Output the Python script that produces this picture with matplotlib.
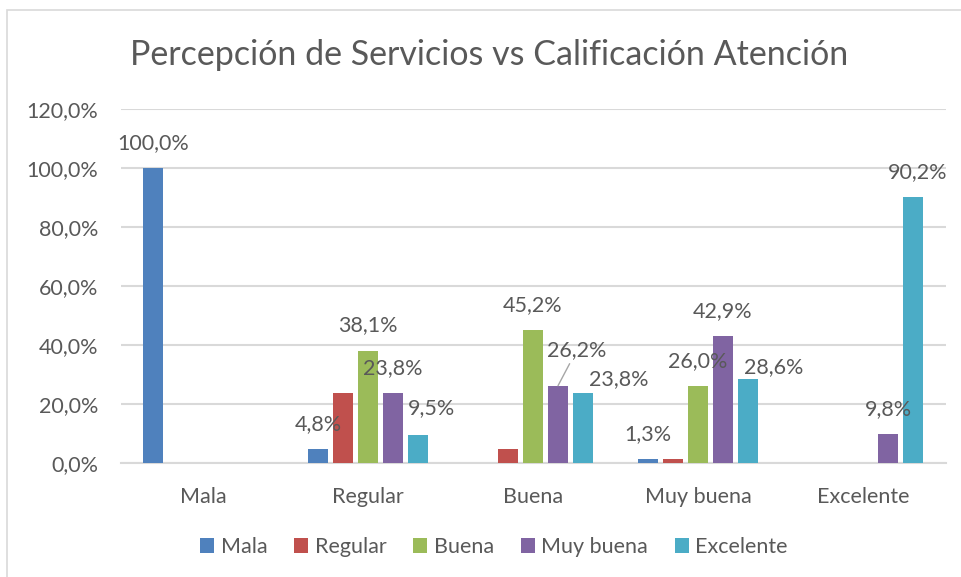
import numpy as np
import matplotlib
matplotlib.use('Agg')
import matplotlib.pyplot as plt
from matplotlib.patches import Rectangle

# ======================== Data ========================
CATEGORIES = ['Mala', 'Regular', 'Buena', 'Muy buena', 'Excelente']
SERIES = ['Mala', 'Regular', 'Buena', 'Muy buena', 'Excelente']

# percentage per category (rows) for each series
MALA = [100.0, 4.8, 0.0, 1.3, 0.0]
REGULAR = [0.0, 23.8, 4.8, 1.3, 0.0]
BUENA = [0.0, 38.1, 45.2, 26.0, 0.0]
MUY_BUENA = [0.0, 23.8, 26.2, 42.9, 9.8]
EXCELENTE = [0.0, 9.5, 23.8, 28.6, 90.2]

Y_TICKS = [0, 20, 40, 60, 80, 100, 120]

# ======================== Style ========================
COLORS = ['#4F81BD', '#C0504D', '#9BBB59', '#8064A2', '#4BACC6']
TEXT = '#595959'
GRID = '#D9D9D9'
FONT = 'Lato'
FS = 15.5

# label offsets in pixels (category, series) -> (dx, dy); default is (0, 25)
LABEL_OFFSETS = {
    (1, 4): (13, 27),
    (2, 3): (19, 36),
    (2, 4): (36, 14),
    (3, 4): (26, 12),
    (4, 4): (5, 25),
}
HIDDEN = {(1, 1), (2, 1), (3, 1)}

fig = plt.figure(figsize=(9.61, 5.77), dpi=100)
ax = fig.add_axes([0.1254, 0.1976, 0.8585, 0.6135])

# chart frame
fig.patches.append(Rectangle((7 / 961, -0.02), 1.0, 1 - 10 / 577 + 0.02,
                             transform=fig.transFigure, fill=False,
                             edgecolor='#D9D9D9', lw=1.2))

series_vals = [MALA, REGULAR, BUENA, MUY_BUENA, EXCELENTE]
x = np.arange(len(CATEGORIES))
step = 25 / 165
width = 20 / 165

for j, (name, vals) in enumerate(zip(SERIES, series_vals)):
    pos = x + (j - 2) * step
    ax.bar(pos, vals, width, color=COLORS[j], label=name, zorder=3)
    for i, v in enumerate(vals):
        if v == 0 or (i, j) in HIDDEN:
            continue
        dx, dy = LABEL_OFFSETS.get((i, j), (0, 25))
        lbl = f'{v:.1f}%'.replace('.', ',')
        arrow = None
        if (i, j) == (2, 3):
            # leader line for the moved label
            arrow = dict(arrowstyle='-', color='#A6A6A6', lw=1,
                         shrinkA=1, shrinkB=0)
        ax.annotate(lbl, (pos[i], v), xytext=(dx, dy),
                    textcoords='offset pixels', ha='center', va='center',
                    fontsize=FS, color=TEXT, family=FONT, zorder=4,
                    arrowprops=arrow)

ax.set_xlim(-0.5, 4.5)
ax.set_ylim(0, 120)
ax.set_yticks(Y_TICKS)
ax.set_yticklabels([f'{t:.1f}%'.replace('.', ',') for t in Y_TICKS])
ax.set_xticks(x)
ax.set_xticklabels(CATEGORIES)
ax.tick_params(length=0, labelsize=FS, labelcolor=TEXT)
ax.tick_params(axis='x', pad=17)
ax.tick_params(axis='y', pad=16)
for t in ax.get_xticklabels() + ax.get_yticklabels():
    t.set_family(FONT)

ax.grid(axis='y', color=GRID, lw=1.5, zorder=0)
for s in ['top', 'right', 'left']:
    ax.spines[s].set_visible(False)
ax.spines['bottom'].set_color(GRID)
ax.spines['bottom'].set_linewidth(1.5)

fig.text(489 / 961, 1 - 55 / 577, 'Percepción de Servicios vs Calificación Atención',
         ha='center', va='center', fontsize=24.5, color=TEXT, family=FONT)

leg = fig.legend(loc='center', bbox_to_anchor=(494 / 961, 1 - 547 / 577), ncol=5,
                 frameon=False, handlelength=0.65, handleheight=0.65,
                 handletextpad=0.3, columnspacing=1.25,
                 prop={'family': FONT, 'size': FS})
for t in leg.get_texts():
    t.set_color(TEXT)

plt.savefig('out.png', dpi=100)
